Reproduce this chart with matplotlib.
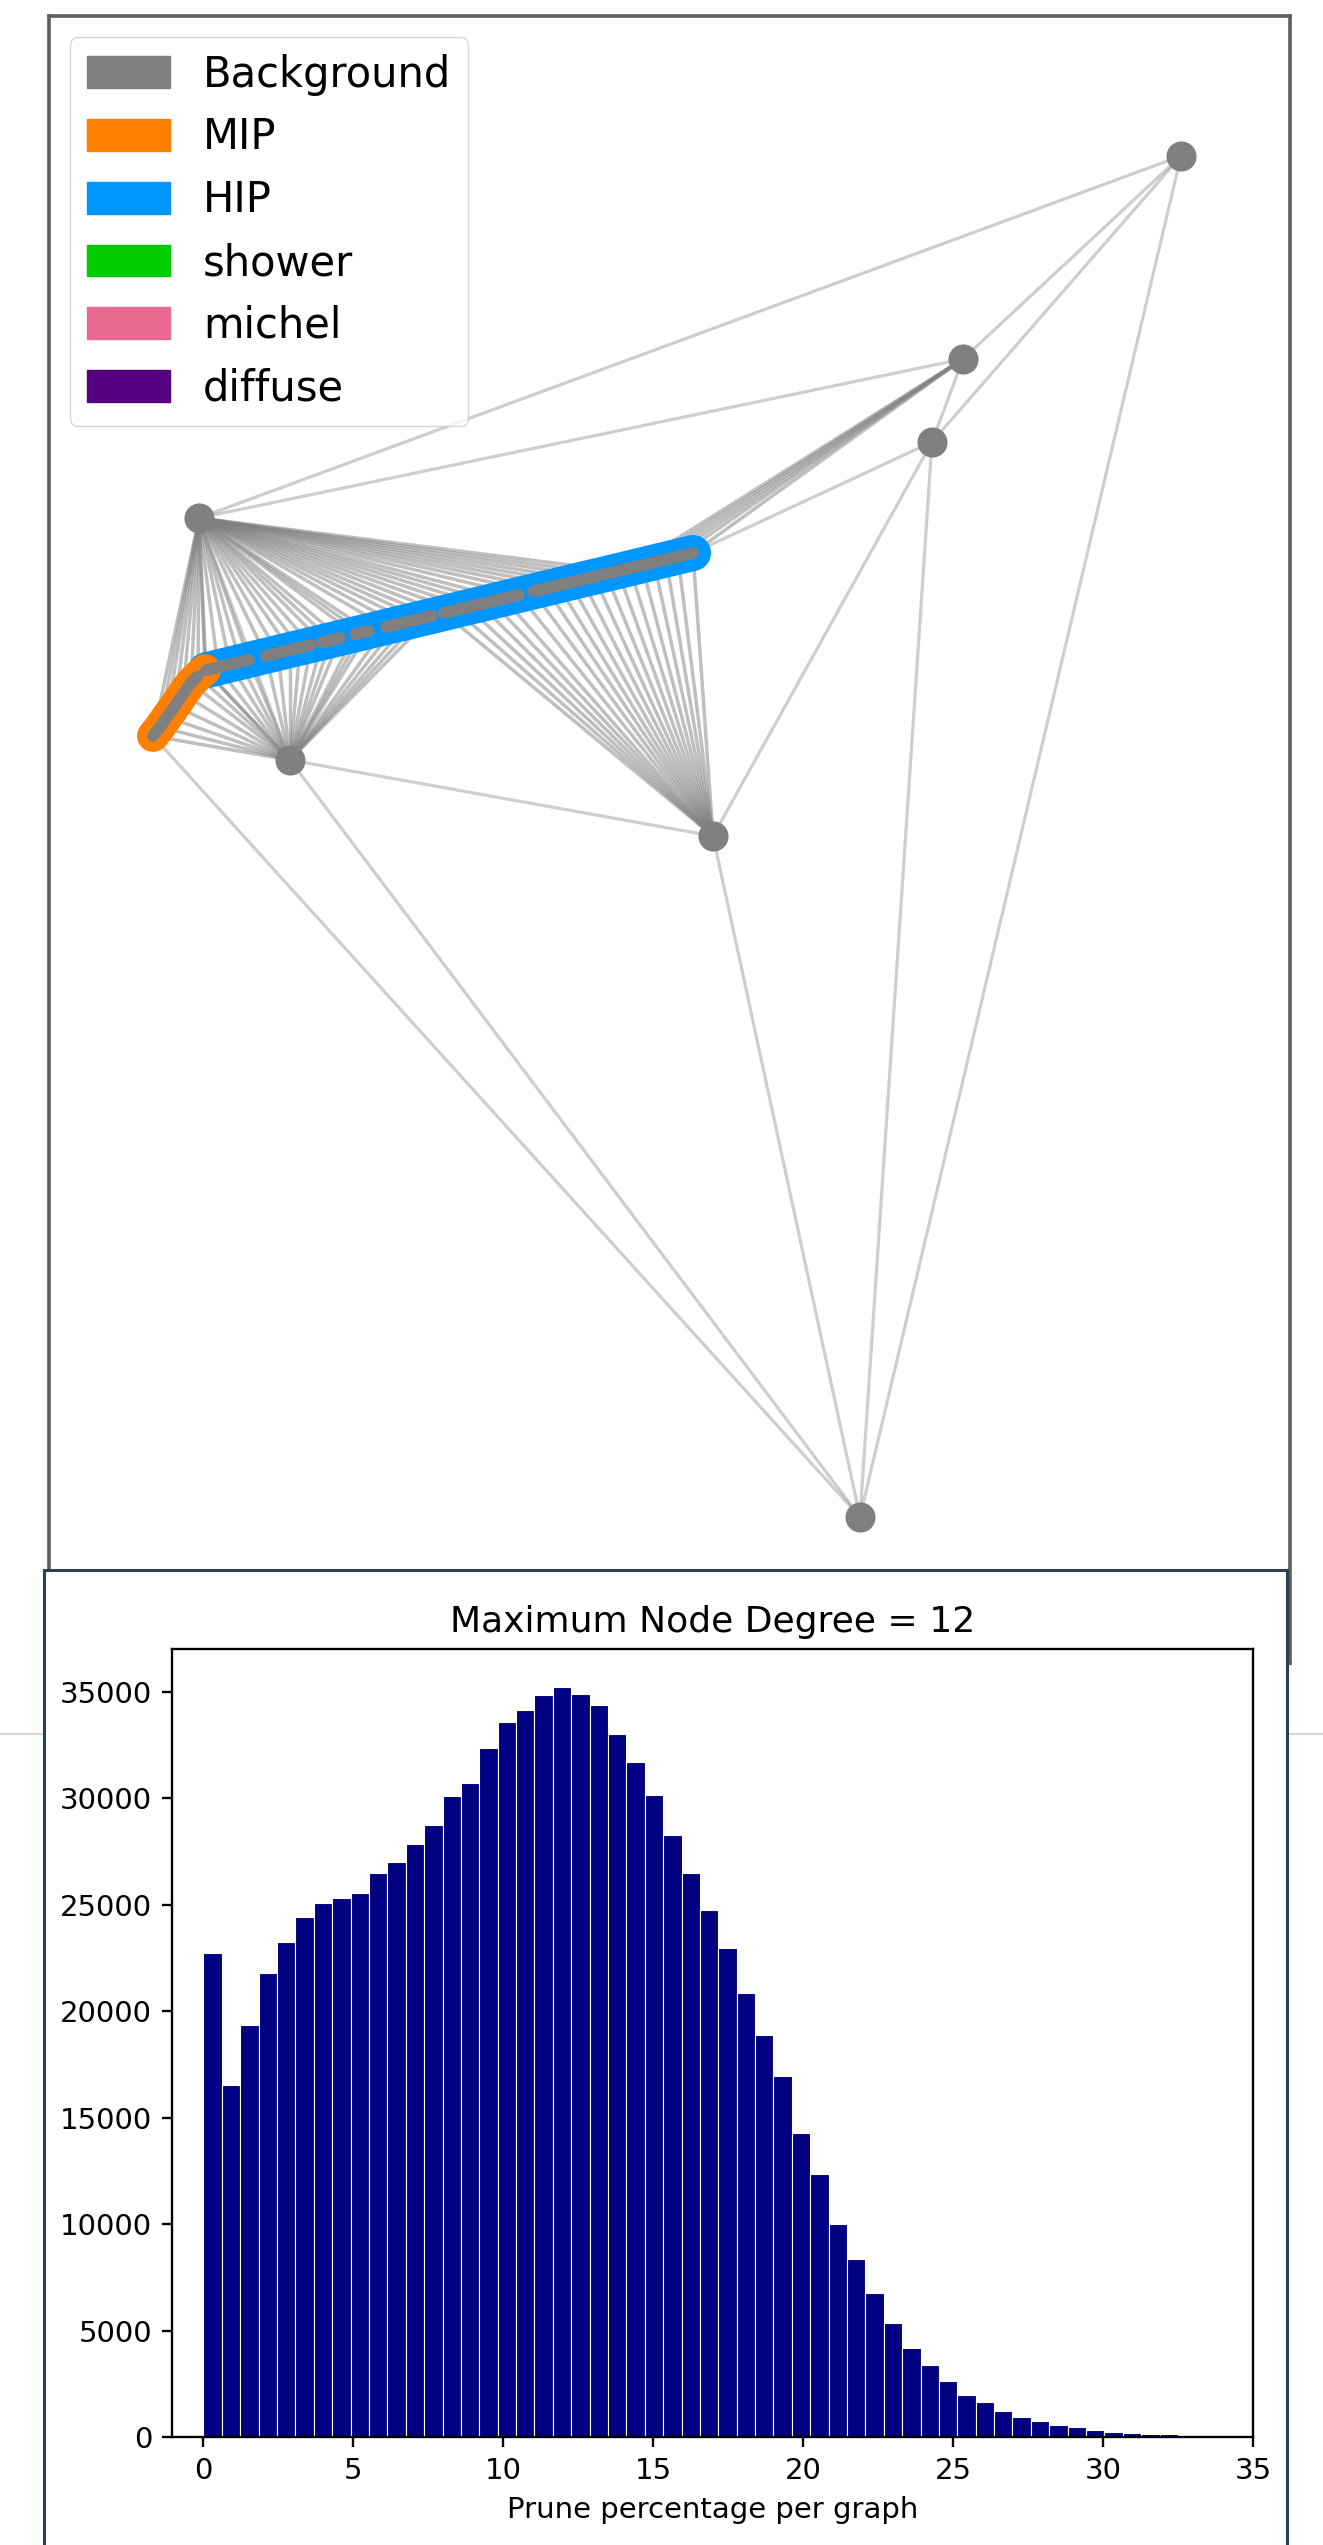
import numpy as np
import matplotlib
matplotlib.use("Agg")
import matplotlib.pyplot as plt
import matplotlib.patches as mpatches
from matplotlib.collections import LineCollection
from matplotlib.lines import Line2D

W, H = 1323, 2545

# ---- graph panel: layout coordinates (image-like, y grows downward) ----
hub_names = ["A", "B", "C", "D", "E", "F", "G"]
hub_x = [1181, 963, 932, 199, 290, 713, 860]
hub_y = [156, 359, 442, 518, 760, 836, 1517]

# MIP track nodes
mip_x = [153, 160, 167, 175, 183, 191, 198, 205]
mip_y = [736, 727, 717, 706, 694, 683, 676, 670]

# HIP track nodes, grouped in dashes (gaps between dashes)
hip_x = [206, 218, 230, 240, 249,
         266, 278, 290, 300, 311,
         322, 331, 340,
         355, 362, 369,
         386, 398, 410, 421, 432,
         444, 456, 468, 480, 492, 504, 519,
         533, 546, 558, 570, 582, 594, 606, 618, 630, 642, 654, 666, 678, 693]
hip_y = [670.3, 667.4, 664.5, 662.1, 659.9,
         655.8, 652.9, 650.0, 647.6, 645.0,
         642.3, 640.2, 638.0,
         634.4, 632.7, 631.0,
         626.9, 624.0, 621.2, 618.5, 615.9,
         613.0, 610.1, 607.2, 604.3, 601.4, 598.5, 594.9,
         591.5, 588.4, 585.5, 582.6, 579.7, 576.8, 574.0, 571.1, 568.2, 565.3,
         562.4, 559.5, 556.6, 553.0]
hip_dash = [0] * 5 + [1] * 5 + [2] * 3 + [3] * 3 + [4] * 5 + [5] * 7 + [6] * 14

# single edges between hubs / track ends
single_edges = [("D", "A"), ("D", "B"), ("A", "B"), ("A", "C"), ("B", "C"),
                ("A", "G"), ("C", "G"), ("C", "F"), ("F", "G"), ("E", "F"),
                ("E", "G"), ("D", "E"), ("mip0", "G"), ("C", "hip_end")]

# fans: hub -> track nodes inside an x range
fan_hubs = ["D", "E", "F", "B"]
fan_xmin = [0, 0, 444, 630]
fan_xmax = [618, 432, 693, 693]
fan_mip = [True, True, False, False]

legend_labels = ["Background", "MIP", "HIP", "shower", "michel", "diffuse"]
legend_colors = ["#808080", "#ff8000", "#0096ff", "#00cc00", "#e8688f", "#550080"]

# ---- histogram panel ----
counts = [22760, 16540, 19360, 21790, 23250, 24440, 25080, 25310, 25560, 26500,
          27010, 27870, 28740, 30120, 30720, 32390, 33610, 34160, 34870, 35260,
          34920, 34400, 33010, 31710, 30180, 28270, 26480, 24740, 22990, 20860,
          18890, 16940, 14300, 12380, 10000, 8350, 6770, 5340, 4180, 3380,
          2630, 1990, 1640, 1220, 920, 740, 550, 470, 340, 235,
          200, 155, 150, 95, 60, 45, 30]
prune_max = 34.95

fig = plt.figure(figsize=(W / 100, H / 100), dpi=100)

# faint separator line behind the lower panel
fig.add_artist(Line2D([0, 1], [1 - 1734 / H] * 2, color="#d6d6d6", lw=1.5, zorder=0.5))

# ---------------- graph ----------------
ax_g = fig.add_axes([49 / W, 1 - 1663 / H, (1290 - 49) / W, (1663 - 16) / H])
ax_g.set_xlim(49, 1290)
ax_g.set_ylim(1663, 16)
ax_g.set_xticks([])
ax_g.set_yticks([])
for s in ax_g.spines.values():
    s.set_color("#5e5e5e")
    s.set_linewidth(2.6)

pos = {n: (x, y) for n, x, y in zip(hub_names, hub_x, hub_y)}
pos["mip0"] = (mip_x[0], mip_y[0])
pos["hip_end"] = (hip_x[-1], hip_y[-1])

single_segs = [[pos[a], pos[b]] for a, b in single_edges]
fan_segs = []
for hub, x0, x1, with_mip in zip(fan_hubs, fan_xmin, fan_xmax, fan_mip):
    if with_mip:
        fan_segs += [[pos[hub], (x, y)] for x, y in zip(mip_x, mip_y)]
    fan_segs += [[pos[hub], (x, y)] for x, y in zip(hip_x, hip_y) if x0 <= x <= x1]
ax_g.add_collection(LineCollection(single_segs, colors="grey", alpha=0.38, linewidths=2.3, zorder=1))
ax_g.add_collection(LineCollection(fan_segs, colors="grey", alpha=0.5, linewidths=2.5, zorder=1))

# tracks
ax_g.plot(hip_x, hip_y, color="#0096ff", lw=26, solid_capstyle="round",
          solid_joinstyle="round", zorder=2)
ax_g.plot(mip_x, mip_y, color="#ff8000", lw=23, solid_capstyle="round",
          solid_joinstyle="round", zorder=2.5)
ax_g.plot(mip_x[:-1], mip_y[:-1], color="grey", lw=8.5, solid_capstyle="round", zorder=3)
hd = np.array(hip_dash)
hx = np.array(hip_x)
hy = np.array(hip_y)
for d in np.unique(hd):
    ax_g.plot(hx[hd == d], hy[hd == d], color="grey", lw=8.5, solid_capstyle="round", zorder=3)

ax_g.scatter(hub_x, hub_y, s=470, color="grey", zorder=4, linewidths=0)

handles = [mpatches.Patch(color=c, label=l) for l, c in zip(legend_labels, legend_colors)]
ax_g.legend(handles=handles, loc="upper left", fontsize=30, handleheight=0.8)

# ---------------- histogram ----------------
fig.add_artist(mpatches.Rectangle((44 / W, -0.01), (1287 - 44) / W, 1 - 1570 / H + 0.01,
                                  facecolor="white", edgecolor="#2d4050", lw=2.2, zorder=1))

ax_h = fig.add_axes([172 / W, 1 - 2437 / H, (1253 - 172) / W, (2437 - 1649) / H])
ax_h.set_zorder(2)
edges = np.linspace(0, prune_max, len(counts) + 1)
centers = (edges[:-1] + edges[1:]) / 2
ax_h.hist(centers, bins=edges, weights=counts, color="navy", edgecolor="white", linewidth=0.8)
ax_h.set_xlim(-1.05, 35)
ax_h.set_xticks(range(0, 36, 5))
ax_h.set_yticks(range(0, 35001, 5000))
ax_h.tick_params(labelsize=21, length=7.2, width=1.67, pad=7)
for s in ax_h.spines.values():
    s.set_linewidth(1.67)
ax_h.set_title("Maximum Node Degree = 12", fontsize=26, pad=12.5)
ax_h.set_xlabel("Prune percentage per graph", fontsize=21, labelpad=8)

fig.savefig("out.png", dpi=100)
